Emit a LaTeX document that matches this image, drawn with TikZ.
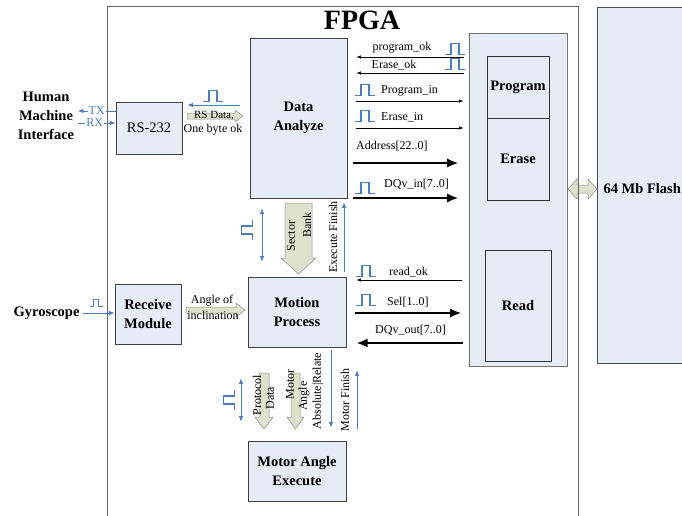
\documentclass[tikz,border=0pt]{standalone}
\usepackage{fontspec}
\setmainfont{Liberation Serif}
\usepackage{tikz}
\usetikzlibrary{arrows.meta}
\usetikzlibrary{calc}
\definecolor{BoxFill}{RGB}{230,236,246}
\definecolor{SigBlue}{RGB}{74,126,193}
\definecolor{Khaki}{RGB}{222,225,203}
\tikzset{
	>={Latex[length=2mm,width=1.6mm]},
	frame/.style={draw=black!60, line width=0.8pt},
	block/.style={draw=black!75, fill=BoxFill, line width=0.7pt, align=center, font=\fontsize{14.5}{19}\selectfont\bfseries},
	memblock/.style={draw=black!55, fill=BoxFill, line width=0.9pt},
	subblock/.style={draw=black!80, fill=BoxFill, line width=0.6pt, font=\fontsize{14.5}{17}\selectfont\bfseries},
	flashbox/.style={draw=black!70, fill=BoxFill, line width=0.7pt},
	namefont/.style={font=\fontsize{14.5}{19}\selectfont\bfseries, align=center},
	sigline/.style={black, line width=0.6pt, -{Latex[length=1.6mm,width=1.2mm]}},
	busline/.style={black, line width=2.2pt, -{Latex[length=4mm,width=3.2mm]}},
	bluesig/.style={SigBlue, line width=0.8pt},
	hollow/.style={draw=black!45, fill=Khaki, line width=0.5pt},
	pulseline/.style={SigBlue, line width=1.3pt},
	label/.style={font=\fontsize{12}{14}\selectfont, inner sep=1pt},
	vlabel/.style={font=\fontsize{12}{14}\selectfont, inner sep=1pt, rotate=90},
	pulse/.pic={\draw[pulseline] (-10,5.5) -- (-4,5.5) -- (-4,-5.5) -- (4,-5.5) -- (4,5.5) -- (10,5.5);}
}

\begin{document}
\begin{tikzpicture}[x=1pt,y=-1pt]
	\useasboundingbox (0,0) rectangle (682,515);
	
	% flash chip on the right
	\draw[flashbox] (597,7) rectangle (700,363);
	\node[namefont, anchor=west] (flash) at (600,189) {64 Mb Flash};
	
	% flash controller
	\node[memblock, minimum width=98pt, minimum height=333pt] (ctrl) at (518,199.5) {};
	\node[subblock, minimum width=62pt, minimum height=62pt] (prog) at (518,87) {Program};
	\node[subblock, minimum width=62pt, minimum height=82pt] (erase) at (518,159) {Erase};
	\node[subblock, minimum width=66pt, minimum height=111pt] (read) at (518,305.5) {Read};
	
	% main blocks
	\node[block, minimum width=97pt, minimum height=160pt] (da) at (298.5,118) {Data\\Analyze};
	\node[block, minimum width=98pt, minimum height=70pt] (mp) at (297,312) {Motion\\Process};
	\node[block, minimum width=98pt, minimum height=60pt] (mae) at (297,471) {Motor Angle\\Execute};
	\node[block, minimum width=66pt, minimum height=52pt, font=\fontsize{14.5}{19}\selectfont] (rs) at (149,128) {RS-232};
	\node[block, minimum width=66pt, minimum height=60pt] (rm) at (148,314) {Receive\\Module};
	
	% outside world
	\node[namefont] (hmi) at (46,116) {Human\\Machine\\Interface};
	\node[namefont, anchor=east] (gyro) at (83,313) {Gyroscope};
	\node[font=\fontsize{28}{30}\selectfont\bfseries] (fpga) at (362,20) {FPGA};
	
	% serial link
	\draw[bluesig,->] (rs.west |- 0,111) -- (hmi.east |- 0,111) node[label, pos=0.5, fill=white] {TX};
	\draw[bluesig,->] (hmi.east |- 0,123) -- (rs.west |- 0,123) node[label, pos=0.45, fill=white] {RX};
	\draw[bluesig,->] (gyro.east) -- (rm.west |- gyro.east);
	\pic[scale=0.65] at (96,303) {pulse};
	
	% RS-232 <-> Data Analyze
	\draw[bluesig,->,shorten <=10pt,shorten >=5pt] (da.west |- 0,105) -- (rs.east |- 0,105);
	\pic at (213,96) {pulse};
	\draw[hollow] (187,113) -- (235,113) -- (235,110) -- (243,116) -- (235,122) -- (235,119) -- (187,119) -- cycle;
	\node[label, font=\fontsize{11}{12}\selectfont] (rsdata) at (214,116) {RS Data,};
	\node[label] (bytok) at (213,130) {One byte ok};
	
	% Receive Module -> Motion Process
	\draw[hollow] (186,307) -- (236,307) -- (236,303) -- (245,310) -- (236,317) -- (236,313) -- (186,313) -- cycle;
	\node[label] (angof) at (212,301) {Angle of};
	\node[label] (incl) at (213,315) {inclination};
	
	% Data Analyze <-> Motion Process
	\draw[bluesig,<->,shorten <=10pt,shorten >=15pt] (da.south -| 262,0) -- (mp.north -| 262,0);
	\pic[rotate=90] at (247,230) {pulse};
	\draw[hollow] (285,203) -- (312,203) -- (312,258) -- (316,258) -- (298.5,274) -- (281,258) -- (285,258) -- cycle;
	\node[vlabel] (sector) at (291,236) {Sector};
	\node[vlabel] (bank) at (307,225) {Bank};
	\node[vlabel] (exfin) at (333,237) {Execute Finish};
	\draw[bluesig,->,shorten <=5pt,shorten >=4pt] (mp.north -| 344,0) -- (da.south -| 344,0);
	
	% Motion Process <-> Motor Angle Execute
	\draw[bluesig,<->,shorten <=31pt,shorten >=19pt] (mp.south -| 241,0) -- (mae.north -| 241,0);
	\pic[rotate=90] at (229,400) {pulse};
	\draw[hollow] (259,373) -- (269,373) -- (269,417) -- (273,417) -- (264,429) -- (255,417) -- (259,417) -- cycle;
	\draw[hollow] (291,373) -- (300,373) -- (300,417) -- (304,417) -- (295.5,429) -- (287,417) -- (291,417) -- cycle;
	\node[vlabel] (protocol) at (257,395) {Protocol};
	\node[vlabel] (pdata) at (270,398) {Data};
	\node[vlabel] (motor) at (290,384) {Motor};
	\node[vlabel] (angle) at (304,396) {Angle};
	\node[vlabel] (absrel) at (318,391) {Absolute|Relate};
	\draw[bluesig,->,shorten <=3pt,shorten >=13pt] (mp.south -| 331,0) -- (mae.north -| 331,0);
	\node[vlabel] (motfin) at (345,400) {Motor Finish};
	\draw[bluesig,->,shorten <=12pt,shorten >=23pt] (mae.north -| 357,0) -- (mp.south -| 357,0);
	
	% Data Analyze <-> controller
	\draw[sigline,shorten <=5pt,shorten >=9pt] (ctrl.west |- 0,57) -- (da.east |- 0,57);
	\node[label] (progok) at (402,48) {program\_ok};
	\pic at (455,49) {pulse};
	\draw[sigline,shorten <=5pt,shorten >=9pt] (ctrl.west |- 0,73) -- (da.east |- 0,73);
	\node[label] (eraseok) at (394,65) {Erase\_ok};
	\pic at (455,64) {pulse};
	\draw[sigline,shorten <=9pt,shorten >=5pt] (da.east |- 0,101) -- (ctrl.west |- 0,101);
	\pic at (365,90) {pulse};
	\node[label, anchor=west] (progin) at (380,91) {Program\_in};
	\draw[sigline,shorten <=9pt,shorten >=5pt] (da.east |- 0,128) -- (ctrl.west |- 0,128);
	\pic at (365,116) {pulse};
	\node[label, anchor=west] (erasein) at (380,117) {Erase\_in};
	\draw[busline,shorten <=6pt,shorten >=10pt] (da.east |- 0,163) -- (ctrl.west |- 0,163);
	\node[label, anchor=west] (addr) at (355,146) {Address[22..0]};
	\draw[busline,shorten <=6pt,shorten >=10pt] (da.east |- 0,198) -- (ctrl.west |- 0,198);
	\pic at (365,188) {pulse};
	\node[label, anchor=west] (dqin) at (383,184) {DQv\_in[7..0]};
	
	% Motion Process <-> controller
	\draw[sigline,shorten <=7pt,shorten >=10pt] (ctrl.west |- 0,280) -- (mp.east |- 0,280);
	\pic at (366,271) {pulse};
	\node[label, anchor=west] (readok) at (388,272) {read\_ok};
	\draw[busline,shorten <=9pt,shorten >=7pt] (mp.east |- 0,313) -- (ctrl.west |- 0,313);
	\pic at (366,300) {pulse};
	\node[label, anchor=west] (sel) at (386,302) {Sel[1..0]};
	\draw[busline,shorten <=6pt,shorten >=10pt] (ctrl.west |- 0,343) -- (mp.east |- 0,343);
	\node[label, anchor=west] (dqout) at (374,330) {DQv\_out[7..0]};
	
	% controller <-> flash
	\draw[hollow] (568,189) -- (577,179) -- (577,185) -- (588,185) -- (588,179) -- (597,189) -- (588,199) -- (588,193) -- (577,193) -- (577,199) -- cycle;
	
	% FPGA border
	\draw[frame] (107,6) rectangle (578,530);
\end{tikzpicture}
\end{document}
